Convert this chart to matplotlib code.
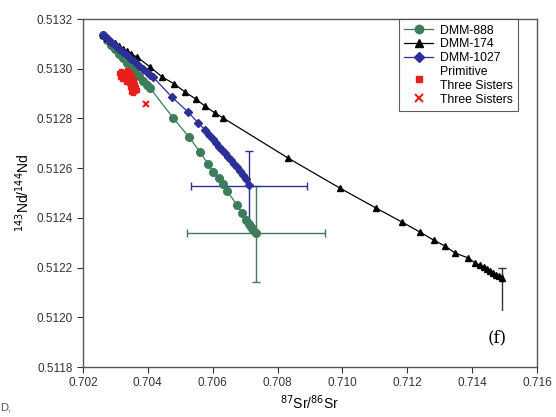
import numpy as np
import matplotlib.pyplot as plt
from matplotlib.patches import Rectangle

plt.rcParams['font.family'] = ['Liberation Sans', 'DejaVu Sans']

# mixing curves
dmm888_sr = [0.70262, 0.70274, 0.70286, 0.70299, 0.70311, 0.70323, 0.70336,
             0.70348, 0.70360, 0.70373, 0.70385, 0.70397, 0.70407, 0.70478,
             0.70527, 0.70561, 0.70585, 0.70601, 0.70619, 0.70632, 0.70644,
             0.70675, 0.70690, 0.70703, 0.70712, 0.70718, 0.70724, 0.70733]
dmm888_nd = [0.513136, 0.513116, 0.513095, 0.513079, 0.513059, 0.513043,
             0.513023, 0.513007, 0.512987, 0.512971, 0.512951, 0.512935,
             0.512922, 0.512802, 0.512725, 0.512665, 0.512617, 0.512585,
             0.512560, 0.512536, 0.512508, 0.512452, 0.512420, 0.512391,
             0.512375, 0.512363, 0.512351, 0.512339]

dmm174_sr = [0.70262, 0.70274, 0.70286, 0.70299, 0.70311, 0.70323, 0.70336,
             0.70348, 0.70367, 0.70407, 0.70444, 0.70481, 0.70515, 0.70548,
             0.70576, 0.70607, 0.70632, 0.70832, 0.70992, 0.71103, 0.71184,
             0.71239, 0.71282, 0.71316, 0.71347, 0.71387, 0.71409, 0.71424,
             0.71437, 0.71446, 0.71455, 0.71464, 0.71474, 0.71483, 0.71492]
dmm174_nd = [0.513136, 0.513124, 0.513112, 0.513103, 0.513091, 0.513079,
             0.513071, 0.513059, 0.513047, 0.513007, 0.512967, 0.512939,
             0.512906, 0.512878, 0.512850, 0.512822, 0.512802, 0.512641,
             0.512520, 0.512440, 0.512383, 0.512343, 0.512310, 0.512287,
             0.512259, 0.512239, 0.512219, 0.512210, 0.512202, 0.512194,
             0.512186, 0.512178, 0.512170, 0.512166, 0.512158]

dmm1027_sr = [0.70262, 0.70274, 0.70286, 0.70299, 0.70311, 0.70323, 0.70336,
              0.70348, 0.70360, 0.70373, 0.70385, 0.70397, 0.70407, 0.70416,
              0.70474, 0.70524, 0.70555, 0.70576, 0.70589, 0.70601, 0.70610,
              0.70619, 0.70629, 0.70638, 0.70647, 0.70656, 0.70666, 0.70675,
              0.70684, 0.70693, 0.70703, 0.70712]
dmm1027_nd = [0.513136, 0.513124, 0.513107, 0.513095, 0.513079, 0.513067,
              0.513055, 0.513039, 0.513027, 0.513011, 0.512999, 0.512987,
              0.512975, 0.512967, 0.512886, 0.512826, 0.512782, 0.512754,
              0.512733, 0.512717, 0.512701, 0.512685, 0.512673, 0.512661,
              0.512645, 0.512633, 0.512617, 0.512605, 0.512589, 0.512572,
              0.512556, 0.512532]

# Three Sisters samples
prim_sr = [0.70311, 0.70317, 0.70323, 0.70330, 0.70336, 0.70342, 0.70348,
           0.70314, 0.70320, 0.70326, 0.70333, 0.70339, 0.70345, 0.70351,
           0.70357, 0.70342, 0.70348, 0.70354, 0.70360, 0.70345, 0.70351,
           0.70357, 0.70363, 0.70348, 0.70354, 0.70360, 0.70367, 0.70333]
prim_nd = [0.512983, 0.512991, 0.512983, 0.512987, 0.512995, 0.512987,
           0.512979, 0.512967, 0.512959, 0.512971, 0.512963, 0.512971,
           0.512959, 0.512967, 0.512955, 0.512943, 0.512947, 0.512935,
           0.512939, 0.512926, 0.512918, 0.512922, 0.512926, 0.512906,
           0.512902, 0.512910, 0.512914, 0.512947]
ts_sr = [0.70394]
ts_nd = [0.512858]

# end-member uncertainties: x, y, xerr(low, high), yerr(low, high)
err888 = (0.70733, 0.51234, (0.00212, 0.00213), (0.00020, 0.00019))
err1027 = (0.70712, 0.51253, (0.00180, 0.00178), (0.00015, 0.00014))
err174 = (0.71492, 0.51216, (0.0, 0.0), (0.00020, 0.00004))

green = '#3d7d5c'
blue = '#2b2f96'
red = '#e8201c'

fig = plt.figure(figsize=(5.56, 4.17), dpi=100)
ax = fig.add_axes([0.1493, 0.1199, 0.8165, 0.8345])


def draw_err(e, color):
    x, y, xe, ye = e
    ax.errorbar([x], [y], xerr=[[xe[0]], [xe[1]]], yerr=[[ye[0]], [ye[1]]],
                fmt='none', ecolor=color, elinewidth=1.0, capsize=3,
                capthick=1.0, zorder=1)


draw_err(err888, green)
draw_err(err1027, blue)
draw_err(err174, '#333333')

ax.plot(dmm888_sr, dmm888_nd, '-o', color=green, lw=0.9, ms=5.5,
        mec=green, label='DMM-888', zorder=3)
ax.plot(dmm174_sr, dmm174_nd, '-^', color='black', lw=0.9, ms=5,
        label='DMM-174', zorder=3)
ax.plot(dmm1027_sr, dmm1027_nd, '-D', color=blue, lw=0.9, ms=4.5,
        label='DMM-1027', zorder=4)
ax.plot(prim_sr, prim_nd, 's', color=red, ms=3.5, ls='none',
        label='Primitive\nThree Sisters', zorder=5)
ax.plot(ts_sr, ts_nd, 'x', color=red, ms=5, mew=1.5, ls='none',
        label='Three Sisters', zorder=5)

# the white panel with the (f) tag
ax.add_patch(Rectangle((0.7139, 0.51181), 0.00205, 0.000215,
                       facecolor='white', edgecolor='none', zorder=6))
ax.text(0.71477, 0.511917, '(f)', family='DejaVu Serif', fontsize=12,
        ha='center', va='center', zorder=7)

ax.set_xlim(0.702, 0.716)
ax.set_ylim(0.5118, 0.5132)
ax.set_xticks(np.arange(0.702, 0.7161, 0.002))
ax.set_yticks(np.arange(0.5118, 0.51321, 0.0002))
ax.xaxis.set_major_formatter(plt.FormatStrFormatter('%.3f'))
ax.yaxis.set_major_formatter(plt.FormatStrFormatter('%.4f'))
ax.tick_params(direction='out', length=4, width=0.8, labelsize=8.5,
               colors='#333333')
for s in ax.spines.values():
    s.set_color('#555555')
    s.set_linewidth(1.0)

ax.set_xlabel(r'$^{87}$Sr/$^{86}$Sr', fontsize=10, labelpad=3)
ax.set_ylabel(r'$^{143}$Nd/$^{144}$Nd', fontsize=10, labelpad=3)

leg = ax.legend(loc='upper right', bbox_to_anchor=(0.958, 1.0),
                fontsize=8.8, frameon=True, fancybox=False,
                edgecolor='#333333', handlelength=2.4, borderpad=0.45,
                labelspacing=0.15, handletextpad=0.5, borderaxespad=0,
                markerscale=1.1)
leg.get_frame().set_linewidth(0.8)

fig.text(0.0, 0.015, 'D,', fontsize=8, color='#555555')

fig.savefig('out.png', dpi=100)
